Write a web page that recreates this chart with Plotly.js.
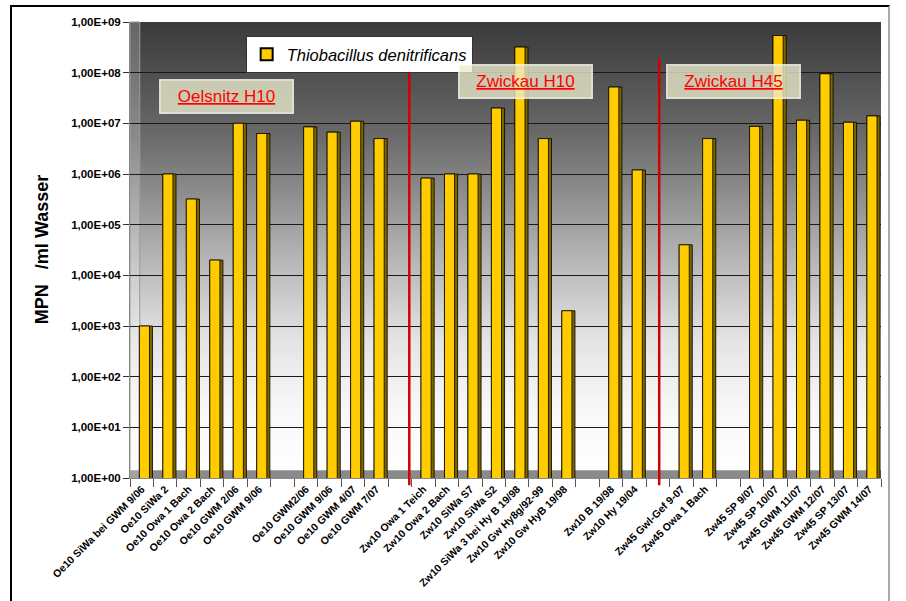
<!DOCTYPE html>
<html>
<head>
<meta charset="utf-8">
<script src="https://cdn.plot.ly/plotly-3.0.1.min.js"></script>
<style>
  html, body { margin: 0; padding: 0; background: #ffffff; }
  #chart { width: 906px; height: 601px; position: absolute; left: 0; top: 0; }
  #frame { position: absolute; left: 10px; top: 5px; width: 876px; height: 600px;
           border-left: 2px solid #000; border-top: 2px solid #000; border-right: 2px solid #aaa;
           pointer-events: none; }
</style>
</head>
<body>
<div id="chart"></div>
<div id="frame"></div>
<script>
// ---- data ----
const labels = [
  "Oe10 SiWa bei GWM 9/06", "Oe10 SiWa 2", "Oe10 Owa 1 Bach", "Oe10 Owa 2 Bach",
  "Oe10 GWM 2/06", "Oe10 GWM 9/06", "",
  "Oe10 GWM2/06", "Oe10 GWM 9/06", "Oe10 GWM 4/07", "Oe10 GWM 7/07", "",
  "Zw10 Owa 1 Teich", "Zw10 Owa 2 Bach", "Zw10 SiWa S7", "Zw10 SiWa S2",
  "Zw10 SiWa 3 bei Hy B 19/98", "Zw10 Gw Hy8g/92-99", "Zw10 Gw HyB 19/98", "",
  "Zw10 B 19/98", "Zw10 Hy 19/04", "",
  "Zw45 Gwl-Gef 9-07", "Zw45 Owa 1 Bach", "",
  "Zw45 SP 9/07", "Zw45 SP 10/07", "Zw45 GWM 11/07", "Zw45 GWM 12/07",
  "Zw45 SP 13/07", "Zw45 GWM 14/07"
];
const values = [
  1.0e3, 1.0e6, 3.2e5, 2.0e4, 1.0e7, 6.3e6, null,
  8.5e6, 6.7e6, 1.1e7, 5.0e6, null,
  8.3e5, 1.0e6, 1.0e6, 2.0e7, 3.2e8, 5.0e6, 2.0e3, null,
  5.2e7, 1.2e6, null,
  4.0e4, 5.0e6, null,
  8.7e6, 5.4e8, 1.15e7, 9.5e7, 1.05e7, 1.4e7
];
const seriesName = "Thiobacillus denitrificans";
const yTickVals = [1, 10, 100, 1e3, 1e4, 1e5, 1e6, 1e7, 1e8, 1e9];
const yTickText = ["1,00E+00", "1,00E+01", "1,00E+02", "1,00E+03", "1,00E+04",
                   "1,00E+05", "1,00E+06", "1,00E+07", "1,00E+08", "1,00E+09"];
const groups = [
  {name: "Oelsnitz H10", x: 0.128, y: 0.836},
  {name: "Zwickau H10", x: 0.527, y: 0.870},
  {name: "Zwickau H45", x: 0.803, y: 0.870}
];
const separators = [{cat: 11.4, top: 0.890}, {cat: 22.05, top: 0.921}];

const cats = labels.map((_, i) => "c" + i);

// ---- styling ----
const FONT = "Liberation Sans, Arial, sans-serif";
const gradSvg = '<svg xmlns="http://www.w3.org/2000/svg" width="100" height="100" preserveAspectRatio="none">' +
  '<defs><linearGradient id="g" x1="0" y1="0" x2="0" y2="1">' +
  '<stop offset="0" stop-color="#3a3a3a"/>' +
  '<stop offset="0.25" stop-color="#6a6a6a"/>' +
  '<stop offset="0.5" stop-color="#b0b0b0"/>' +
  '<stop offset="0.7" stop-color="#e4e4e4"/>' +
  '<stop offset="0.85" stop-color="#f8f8f8"/>' +
  '<stop offset="1" stop-color="#ffffff"/>' +
  '</linearGradient></defs><rect width="100" height="100" fill="url(#g)"/></svg>';

const sideTrace = {
  type: "bar", x: cats, y: values, showlegend: false, hoverinfo: "skip",
  width: 0.56, offset: -0.1,
  marker: {color: "#7d6400", line: {color: "#000", width: 0.8}}
};
const frontTrace = {
  type: "bar", x: cats, y: values, name: "<i>" + seriesName + "</i>",
  width: 0.43, offset: -0.1,
  marker: {color: "#ffcc00", line: {color: "#000", width: 0.8}}
};

const shapes = [
  {type: "rect", xref: "paper", yref: "paper", x0: 0, x1: 1, y0: 0, y1: 0.017,
   fillcolor: "#8a8a8a", line: {width: 0}, layer: "between"},
  {type: "rect", xref: "paper", yref: "paper", x0: 0, x1: 0.013, y0: 0, y1: 1,
   fillcolor: "rgba(255,255,255,0.22)", line: {color: "#9a9a9a", width: 1}, layer: "between"}
];
separators.forEach(s => shapes.push({
  type: "line", xref: "x", yref: "paper", x0: s.cat, x1: s.cat, y0: -0.016, y1: s.top,
  line: {color: "#d40000", width: 2.5}, layer: "above"
}));

const annotations = groups.map(g => ({
  xref: "paper", yref: "paper", x: g.x, y: g.y, xanchor: "center", yanchor: "middle",
  text: "<u>" + g.name + "</u>", showarrow: false,
  font: {family: FONT, size: 17, color: "#ff0000"},
  bgcolor: "rgba(236,236,205,0.78)", bordercolor: "rgba(255,255,255,0.75)", borderwidth: 1.5,
  width: 130, height: 30, borderpad: 1
}));
annotations.push({
  xref: "paper", yref: "paper", x: -0.117, y: 0.5, xanchor: "center", yanchor: "middle",
  text: "<b>MPN\u00a0\u00a0\u00a0/ml Wasser</b>", textangle: -90, showarrow: false,
  font: {family: FONT, size: 18, color: "#000"}
});

const layout = {
  width: 906, height: 601,
  margin: {l: 130, r: 25, t: 22, b: 123},
  paper_bgcolor: "rgba(0,0,0,0)", plot_bgcolor: "rgba(0,0,0,0)",
  barmode: "overlay",
  font: {family: FONT, color: "#000"},
  images: [{
    source: "data:image/svg+xml;charset=utf-8," + encodeURIComponent(gradSvg),
    xref: "paper", yref: "paper", x: 0, y: 1, sizex: 1, sizey: 1,
    xanchor: "left", yanchor: "top", sizing: "stretch", layer: "below"
  }],
  xaxis: {
    type: "category", tickvals: cats, ticktext: labels.map(l => l ? "<b>" + l + "</b>" : ""),
    tickangle: -45,
    tickson: "boundaries", ticks: "outside", ticklen: 8, tickcolor: "#555",
    showgrid: false, showline: true, linecolor: "#888", linewidth: 1,
    tickfont: {family: FONT, size: 10.5, color: "#000"},
    range: [-0.5, 31.5], automargin: false, fixedrange: true
  },
  yaxis: {
    type: "log", range: [0, 9], tickvals: yTickVals, ticktext: yTickText.map(t => "<b>" + t + "</b>"),
    ticks: "outside", ticklen: 6, tickcolor: "#333",
    showgrid: true, gridcolor: "#1a1a1a", gridwidth: 1,
    showline: true, linecolor: "#888", zeroline: false,
    tickfont: {family: FONT, size: 11.5, color: "#000"},
    automargin: false, fixedrange: true
  },
  legend: {
    x: 0.154, y: 0.969, xanchor: "left", yanchor: "top",
    bgcolor: "#ffffff", bordercolor: "#333", borderwidth: 1,
    font: {family: FONT, size: 16.5, color: "#000"},
    itemsizing: "constant"
  },
  shapes: shapes,
  annotations: annotations
};

Plotly.newPlot("chart", [sideTrace, frontTrace], layout, {displayModeBar: false, staticPlot: true});
</script>
</body>
</html>
